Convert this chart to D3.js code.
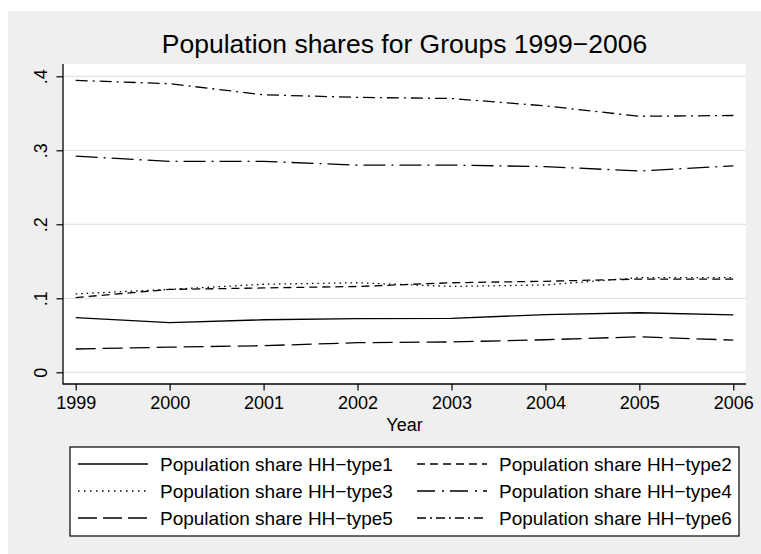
<!DOCTYPE html>
<html><head><meta charset="utf-8">
<script src="https://cdn.jsdelivr.net/npm/d3@7/dist/d3.min.js"></script>
<style>
html,body{margin:0;padding:0;background:#fff;}
text{font-family:"Liberation Sans",Arial,Helvetica,sans-serif;fill:#000;}
</style></head>
<body>
<svg id="chart" width="761" height="554"></svg>
<script>
const years = [1999, 2000, 2001, 2002, 2003, 2004, 2005, 2006];
const type1 = [0.074, 0.067, 0.071, 0.0725, 0.073, 0.078, 0.0805, 0.0775];
const type2 = [0.101, 0.112, 0.114, 0.116, 0.121, 0.123, 0.126, 0.126];
const type3 = [0.106, 0.112, 0.119, 0.121, 0.116, 0.118, 0.128, 0.128];
const type4 = [0.292, 0.285, 0.285, 0.280, 0.280, 0.278, 0.272, 0.279];
const type5 = [0.0315, 0.034, 0.036, 0.040, 0.041, 0.044, 0.048, 0.0435];
const type6 = [0.3945, 0.390, 0.375, 0.3715, 0.370, 0.360, 0.346, 0.347];
const seriesNames = ["Population share HH\u2212type1","Population share HH\u2212type2","Population share HH\u2212type3",
                     "Population share HH\u2212type4","Population share HH\u2212type5","Population share HH\u2212type6"];
const yTicks = [0, 0.1, 0.2, 0.3, 0.4];
const yTickLabels = ["0", ".1", ".2", ".3", ".4"];
const xTicks = years;
const titleText = "Population shares for Groups 1999\u22122006";
const xLabel = "Year";

const seriesValues = [type1, type2, type3, type4, type5, type6];
const dashes = ["none", "8,5", "1.5,4", "22,6,2,6", "20,7", "12,5,2,5"];
const legendDashes = ["none", "8,5", "1.5,4.5", "18,7,2,6", "19,6", "9,4,2,4"];

const svg = d3.select("#chart");
// graph region
svg.append("rect").attr("x", 8).attr("y", 11).attr("width", 753).attr("height", 543).attr("fill", "#efefef");

const plot = {l: 63, r: 746, t: 64, b: 384};
const x = d3.scaleLinear().domain([1999, 2006]).range([75.7, 733.3]);
const y = d3.scaleLinear().domain([0, 0.4]).range([372.3, 76.3]);

svg.append("rect").attr("x", plot.l).attr("y", plot.t).attr("width", plot.r - plot.l).attr("height", plot.b - plot.t).attr("fill", "#fff");

// gridlines
svg.append("g").selectAll("line").data(yTicks).join("line")
  .attr("x1", plot.l).attr("x2", plot.r)
  .attr("y1", d => y(d)).attr("y2", d => y(d))
  .attr("stroke", "#e3e3e3").attr("stroke-width", 1.2);

// lines
const line = d3.line().x((d, i) => x(years[i])).y(d => y(d));
svg.append("g").selectAll("path").data(seriesValues).join("path")
  .attr("d", d => line(d))
  .attr("fill", "none").attr("stroke", "#000").attr("stroke-width", 1.3)
  .attr("stroke-dasharray", (d, i) => dashes[i]);

// y axis
const yAxis = svg.append("g").attr("transform", `translate(${plot.l},0)`)
  .call(d3.axisLeft(y).tickValues(yTicks).tickFormat((d, i) => yTickLabels[i]).tickSize(6.5).tickSizeOuter(0));
yAxis.select(".domain").remove();
yAxis.selectAll(".tick line").attr("stroke", "#000").attr("stroke-width", 1.2);
yAxis.selectAll(".tick text")
  .attr("transform", "rotate(-90)").attr("x", 0).attr("y", -16).attr("dy", 0)
  .attr("text-anchor", "middle").style("font-size", "18px");
svg.append("line").attr("x1", plot.l).attr("x2", plot.l).attr("y1", plot.t).attr("y2", plot.b + 0.6)
  .attr("stroke", "#000").attr("stroke-width", 1.3);

// x axis
const xAxis = svg.append("g").attr("transform", `translate(0,${plot.b})`)
  .call(d3.axisBottom(x).tickValues(xTicks).tickFormat(d3.format("d")).tickSize(6.5).tickPadding(6).tickSizeOuter(0));
xAxis.select(".domain").remove();
xAxis.selectAll(".tick line").attr("stroke", "#000").attr("stroke-width", 1.2);
xAxis.selectAll(".tick text").style("font-size", "18px");
svg.append("line").attr("x1", plot.l).attr("x2", plot.r).attr("y1", plot.b).attr("y2", plot.b)
  .attr("stroke", "#000").attr("stroke-width", 1.3);

// title and axis title
svg.append("text").attr("x", (plot.l + plot.r) / 2).attr("y", 53).attr("text-anchor", "middle")
  .style("font-size", "26.5px").text(titleText);
svg.append("text").attr("x", (plot.l + plot.r) / 2).attr("y", 431).attr("text-anchor", "middle")
  .style("font-size", "18px").text(xLabel);

// legend
const lg = svg.append("g");
lg.append("rect").attr("x", 70).attr("y", 447).attr("width", 669).attr("height", 89)
  .attr("fill", "#fff").attr("stroke", "#000").attr("stroke-width", 1.2);
const colX = [78, 417];
const rowY = [464, 491, 518];
const items = seriesNames.map((name, i) => ({name, i, col: i % 2, row: Math.floor(i / 2)}));
const it = lg.selectAll("g.item").data(items).join("g").attr("class", "item")
  .attr("transform", d => `translate(${colX[d.col]},${rowY[d.row]})`);
it.append("line").attr("x1", 0).attr("x2", 70).attr("y1", 0).attr("y2", 0)
  .attr("stroke", "#000").attr("stroke-width", 1.3)
  .attr("stroke-dasharray", d => legendDashes[d.i]);
it.append("text").attr("x", 82).attr("y", 6.8).style("font-size", "19px").text(d => d.name);
</script>
</body></html>
